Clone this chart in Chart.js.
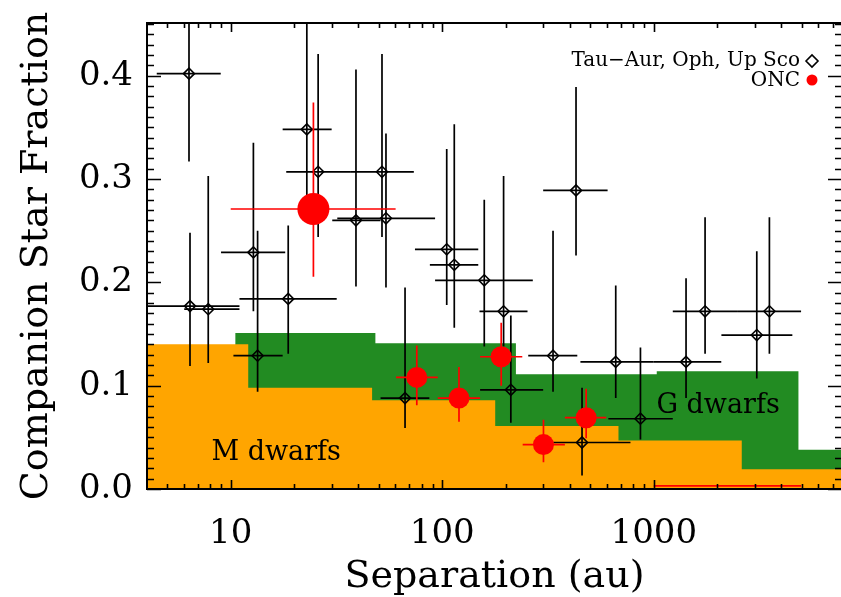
<!DOCTYPE html>
<html>
<head>
<meta charset="utf-8">
<script src="https://cdn.jsdelivr.net/npm/chart.js@4.4.0/dist/chart.umd.min.js"></script>
<style>
  html, body { margin: 0; padding: 0; background: #fff; overflow: hidden; }
  #wrap { width: 843px; height: 597px; }
</style>
</head>
<body>
<div id="wrap"><canvas id="c" width="843" height="597"></canvas></div>
<script>
// Tau-Aur, Oph, Up Sco companion fractions per separation bin
const sfrSep    = [6.35, 6.42, 7.83, 12.8, 13.4, 18.7, 22.9, 25.9, 39.1, 51.9, 54.2, 66.7, 105, 114, 158, 195, 211, 334, 429, 458, 661, 865, 1421, 1748, 3069, 3521];
const sfrSepLo  = [4.47, 3.5, 6.03, 9.0, 10.3, 11.0, 17.6, 18.3, 30.2, 37.0, 31.9, 51.1, 74.3, 87.4, 92.5, 150, 151, 255, 300, 335, 450, 610, 1000, 1230, 2088, 2500];
const sfrSepHi  = [8.97, 11.0, 11.0, 18.1, 17.6, 31.7, 30.0, 37.0, 51.1, 73.4, 92.5, 86.9, 148, 148, 268, 253, 300, 435, 605, 776, 1000, 1230, 2085, 2500, 4520, 4970];
const sfrFrac   = [0.402, 0.177, 0.174, 0.229, 0.129, 0.184, 0.348, 0.307, 0.260, 0.307, 0.262, 0.088, 0.232, 0.217, 0.202, 0.172, 0.096, 0.129, 0.289, 0.045, 0.123, 0.068, 0.123, 0.172, 0.149, 0.172];
const sfrFracLo = [0.317, 0.119, 0.122, 0.172, 0.094, 0.131, 0.270, 0.244, 0.196, 0.244, 0.195, 0.059, 0.178, 0.156, 0.138, 0.138, 0.064, 0.094, 0.226, 0.013, 0.088, 0.048, 0.088, 0.131, 0.107, 0.131];
const sfrFracHi = [0.470, 0.248, 0.303, 0.335, 0.250, 0.255, 0.470, 0.421, 0.406, 0.421, 0.344, 0.195, 0.329, 0.353, 0.280, 0.303, 0.168, 0.250, 0.389, 0.098, 0.197, 0.137, 0.204, 0.263, 0.230, 0.263];

// ONC companion fractions
const oncSep    = [24.6, 75.8, 120, 190, 301, 479, 2236];
const oncSepLo  = [10.0, 60.5, 95.2, 151, 240, 380, 1000];
const oncSepHi  = [60.2, 95.2, 151, 239, 380, 596, 4970];
const oncFrac   = [0.271, 0.108, 0.088, 0.128, 0.043, 0.069, 0.003];
const oncFracLo = [0.2055, 0.081, 0.065, 0.100, 0.026, 0.049, null];
const oncFracHi = [0.374, 0.139, 0.118, 0.161, 0.067, 0.097, null];
const oncRadius = [16, 10.5, 10.5, 10.5, 10.5, 10.5, 0];

// Field M dwarf and G dwarf companion fractions (bin left edges, last entry closes the final bin)
const mBinEdges = [3, 12.1, 46.6, 178, 681, 2606, 9000];
const mFrac     = [0.140, 0.098, 0.086, 0.061, 0.047, 0.019];
const gBinEdges = [10.5, 48.3, 223, 1033, 4830, 9000];
const gFrac     = [0.151, 0.141, 0.111, 0.114, 0.038];

const xTickLabels = [10, 100, 1000];
const yTickLabels = [0.0, 0.1, 0.2, 0.3, 0.4];

const SERIF = "'DejaVu Serif', serif";

function histPoints(edges, vals) {
  const pts = vals.map((v, i) => ({ x: edges[i], y: v }));
  pts.push({ x: edges[edges.length - 1], y: vals[vals.length - 1] });
  return pts;
}

function noScalePadding(s) {
  s.paddingTop = 0; s.paddingBottom = 0; s.paddingLeft = 0; s.paddingRight = 0;
}

const errorBars = {
  id: 'errorBars',
  beforeDatasetDraw(chart, args) {
    const ds = chart.data.datasets[args.index];
    if (!ds.err) return;
    const { ctx, chartArea: a } = chart;
    const xs = chart.scales.x, ys = chart.scales.y;
    const e = ds.err;
    ctx.save();
    ctx.beginPath();
    ctx.rect(a.left, a.top, a.right - a.left, a.bottom - a.top);
    ctx.clip();
    ctx.strokeStyle = e.color;
    ctx.lineWidth = e.width;
    ds.data.forEach((p, i) => {
      const px = xs.getPixelForValue(p.x), py = ys.getPixelForValue(p.y);
      ctx.beginPath();
      ctx.moveTo(xs.getPixelForValue(e.xlo[i]), py);
      ctx.lineTo(xs.getPixelForValue(e.xhi[i]), py);
      if (e.ylo[i] !== null) {
        ctx.moveTo(px, ys.getPixelForValue(e.ylo[i]));
        ctx.lineTo(px, ys.getPixelForValue(e.yhi[i]));
      }
      ctx.stroke();
    });
    ctx.restore();
  }
};

const frameAndTicks = {
  id: 'frameAndTicks',
  afterDatasetsDraw(chart) {
    const { ctx, chartArea: a } = chart;
    const xs = chart.scales.x, ys = chart.scales.y;
    ctx.save();
    ctx.strokeStyle = '#000';
    ctx.lineWidth = 1.6;
    ctx.beginPath();
    // x ticks, bottom and top
    for (let d = 0; d <= 3; d++) {
      for (let k = 1; k <= 9; k++) {
        const v = k * Math.pow(10, d);
        if (v < xs.min || v > xs.max) continue;
        const px = Math.round(xs.getPixelForValue(v)) + 0.5;
        const len = k === 1 ? 9 : 5;
        ctx.moveTo(px, a.bottom); ctx.lineTo(px, a.bottom - len);
        ctx.moveTo(px, a.top); ctx.lineTo(px, a.top + len);
      }
    }
    // y ticks, left and right
    for (let i = 0; i <= 45; i++) {
      const v = i / 100;
      const py = Math.round(ys.getPixelForValue(v)) + 0.5;
      const len = i % 10 === 0 ? 14 : 7;
      ctx.moveTo(a.left, py); ctx.lineTo(a.left + len, py);
      ctx.moveTo(a.right, py); ctx.lineTo(a.right - len, py);
    }
    ctx.stroke();
    ctx.lineWidth = 2;
    ctx.strokeRect(a.left, a.top, a.right - a.left, a.bottom - a.top);
    ctx.restore();
  },
  afterDraw(chart) {
    const { ctx } = chart;
    const xs = chart.scales.x, ys = chart.scales.y;
    ctx.save();
    // histogram labels
    ctx.fillStyle = '#000';
    ctx.font = '27px ' + SERIF;
    ctx.textAlign = 'center';
    ctx.textBaseline = 'middle';
    ctx.fillText('M dwarfs', xs.getPixelForValue(16.4), ys.getPixelForValue(0.035));
    ctx.fillText('G dwarfs', xs.getPixelForValue(2014), ys.getPixelForValue(0.080));
    // legend
    const sfr = chart.data.datasets[0], onc = chart.data.datasets[1];
    ctx.font = '20px ' + SERIF;
    ctx.textAlign = 'right';
    ctx.fillText(sfr.label, 800, 61);
    ctx.fillText(onc.label, 800, 81);
    ctx.lineWidth = 1.6;
    ctx.strokeStyle = '#000';
    ctx.fillStyle = 'rgba(0,0,0,0)';
    Chart.helpers.drawPoint(ctx, { pointStyle: 'rectRot', radius: 6, rotation: 0, borderWidth: 1.6 }, 812, 61);
    ctx.fillStyle = '#ff0000';
    ctx.beginPath();
    ctx.arc(812, 80, 5.5, 0, Math.PI * 2);
    ctx.fill();
    ctx.restore();
  }
};

new Chart(document.getElementById('c'), {
  data: {
    datasets: [
      {
        type: 'scatter',
        label: 'Tau\u2212Aur, Oph, Up Sco',
        data: sfrSep.map((s, i) => ({ x: s, y: sfrFrac[i] })),
        pointStyle: 'rectRot',
        pointRadius: 5.5,
        pointBorderColor: '#000',
        pointBackgroundColor: 'rgba(0,0,0,0)',
        pointBorderWidth: 1.6,
        err: { xlo: sfrSepLo, xhi: sfrSepHi, ylo: sfrFracLo, yhi: sfrFracHi, color: '#000', width: 1.7 },
        order: 2
      },
      {
        type: 'scatter',
        label: 'ONC',
        data: oncSep.map((s, i) => ({ x: s, y: oncFrac[i] })),
        pointStyle: 'circle',
        pointRadius: oncRadius,
        pointBackgroundColor: '#ff0000',
        pointBorderColor: '#ff0000',
        pointBorderWidth: 0,
        err: { xlo: oncSepLo, xhi: oncSepHi, ylo: oncFracLo, yhi: oncFracHi, color: '#ff0000', width: 1.7 },
        order: 1
      },
      {
        type: 'line',
        label: 'M dwarfs',
        data: histPoints(mBinEdges, mFrac),
        stepped: true,
        borderWidth: 0,
        pointRadius: 0,
        backgroundColor: '#ffa500',
        fill: 'origin',
        order: 5
      },
      {
        type: 'line',
        label: 'G dwarfs',
        data: histPoints(gBinEdges, gFrac),
        stepped: true,
        borderWidth: 0,
        pointRadius: 0,
        backgroundColor: '#228b22',
        fill: 'origin',
        order: 6
      }
    ]
  },
  options: {
    responsive: false,
    devicePixelRatio: 1,
    animation: false,
    layout: { autoPadding: false, padding: { left: 0, top: 23, right: 1, bottom: 0 } },
    plugins: { legend: { display: false }, tooltip: { enabled: false } },
    scales: {
      x: {
        type: 'logarithmic',
        min: 4.02,
        max: 7760,
        afterBuildTicks: s => { s.ticks = xTickLabels.map(v => ({ value: v })); },
        afterFit: s => { s.height = 108; noScalePadding(s); },
        grid: { display: false, drawTicks: false },
        border: { display: false },
        ticks: {
          autoSkip: false, maxRotation: 0, padding: 25, color: '#000',
          font: { family: SERIF, size: 34 },
          callback: v => String(v)
        },
        title: {
          display: true, text: 'Separation (au)', color: '#000',
          font: { family: SERIF, size: 38 }, padding: { top: 0, bottom: -3 }
        }
      },
      y: {
        type: 'linear',
        min: 0,
        max: 0.451,
        afterBuildTicks: s => { s.ticks = yTickLabels.map(v => ({ value: v })); },
        afterFit: s => { s.width = 147; noScalePadding(s); },
        grid: { display: false, drawTicks: false },
        border: { display: false },
        ticks: {
          padding: 14, color: '#000',
          font: { family: SERIF, size: 34 },
          callback: v => Number(v).toFixed(1)
        },
        title: {
          display: true, text: 'Companion Star Fraction', color: '#000',
          font: { family: SERIF, size: 38 }, padding: { top: 14, bottom: 0 }
        }
      }
    }
  },
  plugins: [errorBars, frameAndTicks]
});
</script>
</body>
</html>
